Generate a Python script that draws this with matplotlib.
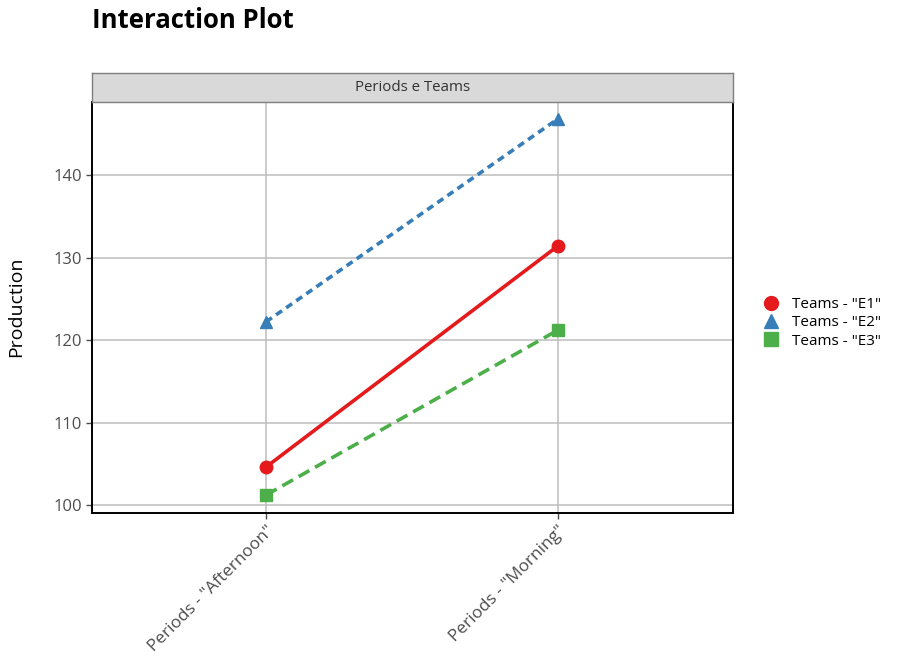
import matplotlib
matplotlib.use("Agg")
import matplotlib.pyplot as plt

plt.rcParams['font.family'] = ['Open Sans', 'DejaVu Sans']

# Data
periods = ['Periods - "Afternoon"', 'Periods - "Morning"']
teams = ['Teams - "E1"', 'Teams - "E2"', 'Teams - "E3"']
e1 = [104.6, 131.4]
e2 = [122.2, 146.8]
e3 = [101.2, 121.2]
yticks = [100, 110, 120, 130, 140]

series = [e1, e2, e3]
colors = ['#e41a1c', '#377eb8', '#4daf4a']
markers = ['o', '^', 's']
dashes = [None, (2.0, 1.4), (3.4, 1.8)]

W, H = 898, 666
fig = plt.figure(figsize=(W / 100, H / 100), dpi=100)
left, right, bottom, top = 92, 733, 513, 102
ax = fig.add_axes([left / W, 1 - bottom / H, (right - left) / W, (bottom - top) / H])

x = [1, 2]
for vals, name, c, m, d in zip(series, teams, colors, markers, dashes):
    line, = ax.plot(x, vals, color=c, lw=2.6, marker=m, markersize=9,
                    label=name, zorder=3)
    if d is not None:
        line.set_dashes(d)

ax.set_xlim(0.404, 2.6)
ax.set_ylim(99.03, 148.85)
ax.set_yticks(yticks)
ax.set_xticks(x)
ax.set_xticklabels(periods, rotation=45, ha='right', rotation_mode='anchor')
ax.grid(True, color='#bdbdbd', lw=1.1)
ax.set_axisbelow(True)
for s in ax.spines.values():
    s.set_color('black')
    s.set_linewidth(1.4)
ax.tick_params(colors='#4d4d4d', labelsize=12, length=4, width=1, pad=3)
ax.tick_params(axis='x', labelsize=12.4)
for lbl in ax.get_xticklabels() + ax.get_yticklabels():
    lbl.set_color('#4d4d4d')

fig.text(16 / W, 1 - 307 / H, 'Production', fontsize=14, rotation=90,
         ha='center', va='center')

# facet strip
strip = fig.add_axes([left / W, 1 - top / H, (right - left) / W, 29 / H])
strip.set_xticks([])
strip.set_yticks([])
strip.set_facecolor('#d9d9d9')
for s in strip.spines.values():
    s.set_color('#7f7f7f')
    s.set_linewidth(1)
strip.text(0.5, 0.5, 'Periods e Teams', ha='center', va='center',
           fontsize=10.8, color='#333333', transform=strip.transAxes)

fig.text(92 / W, 1 - 21 / H, 'Interaction Plot', fontsize=18.5, fontweight='bold',
         ha='left', va='center')

handles = []
for name, c, m in zip(teams, colors, markers):
    handles.append(plt.Line2D([], [], color=c, marker=m, ls='none', markersize=10))
fig.legend(handles, teams, loc='center left', bbox_to_anchor=(748 / W, 1 - 323 / H),
           frameon=False, fontsize=11, handletextpad=0.8, labelspacing=0.2,
           handlelength=1.2)

fig.savefig('out.png', dpi=100)
